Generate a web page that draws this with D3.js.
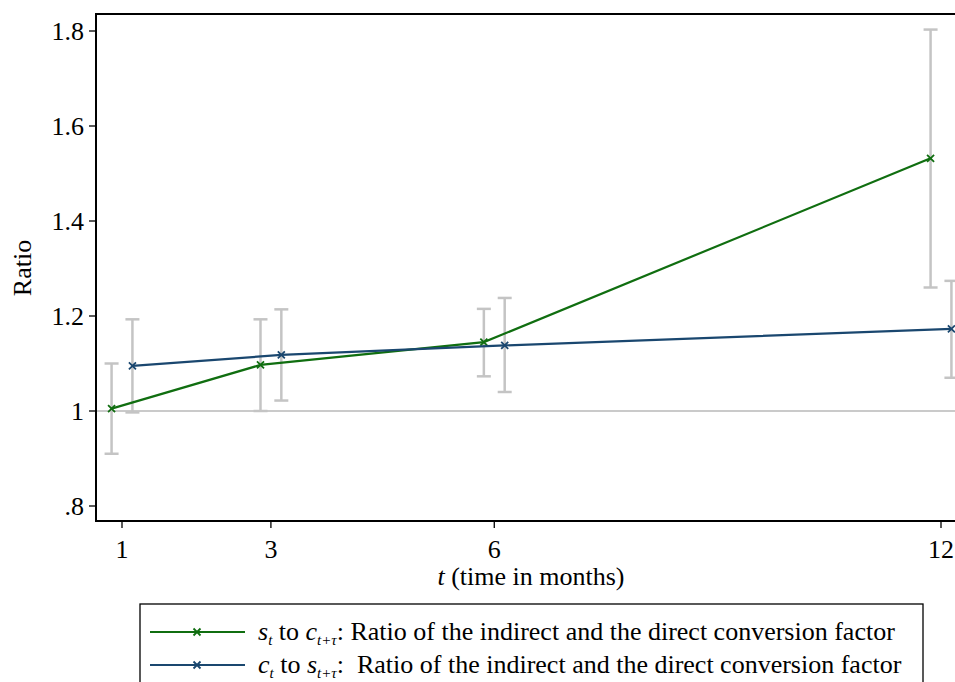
<!DOCTYPE html>
<html><head><meta charset="utf-8">
<script src="https://cdn.jsdelivr.net/npm/d3@7"></script>
<style>body{margin:0;background:#fff}svg{display:block}svg text{font-family:"Liberation Serif","Times New Roman","DejaVu Serif",serif}</style>
</head><body>
<svg id="c" width="955" height="682"></svg>
<script>
const months = [1, 3, 6, 12];
const greenVals = [1.005, 1.097, 1.145, 1.532];
const greenLo   = [0.910, 1.000, 1.073, 1.260];
const greenHi   = [1.100, 1.193, 1.215, 1.803];
const blueVals  = [1.095, 1.118, 1.138, 1.173];
const blueLo    = [0.997, 1.022, 1.040, 1.070];
const blueHi    = [1.193, 1.214, 1.238, 1.274];
const yTicks = [0.8, 1.0, 1.2, 1.4, 1.6, 1.8];
const yTickLabels = [".8", "1", "1.2", "1.4", "1.6", "1.8"];
const xTicks = [1, 3, 6, 12];

const svg = d3.select("#c");
const L = 96, T = 14, R = 962, B = 521;
const x = d3.scaleLinear().domain([1, 12]).range([122, 941]);
const y = d3.scaleLinear().domain([0.8, 1.8]).range([506, 31]);
const off = 0.14;
const green = "#106e10", blue = "#1a476f", gray = "#c4c4c4";
const FS = 26;

svg.append("line").attr("x1", L).attr("x2", R).attr("y1", y(1)).attr("y2", y(1))
  .attr("stroke", "#b8b8b8").attr("stroke-width", 1.5);

const series = [
  {vals: greenVals, lo: greenLo, hi: greenHi, dx: -off, color: green},
  {vals: blueVals, lo: blueLo, hi: blueHi, dx: off, color: blue}
];

series.forEach(s => {
  const g = svg.append("g").attr("stroke", gray).attr("stroke-width", 2.5).attr("fill", "none");
  months.forEach((m, i) => {
    const cx = x(m + s.dx);
    g.append("line").attr("x1", cx).attr("x2", cx).attr("y1", y(s.lo[i])).attr("y2", y(s.hi[i]));
    g.append("line").attr("x1", cx - 7).attr("x2", cx + 7).attr("y1", y(s.lo[i])).attr("y2", y(s.lo[i]));
    g.append("line").attr("x1", cx - 7).attr("x2", cx + 7).attr("y1", y(s.hi[i])).attr("y2", y(s.hi[i]));
  });
});

function xMark(g, cx, cy, color, r) {
  g.append("path").attr("d", `M${cx-r},${cy-r}L${cx+r},${cy+r}M${cx-r},${cy+r}L${cx+r},${cy-r}`)
    .attr("stroke", color).attr("stroke-width", 1.8).attr("fill", "none");
}

series.forEach(s => {
  const line = d3.line().x((d, i) => x(months[i] + s.dx)).y(d => y(d));
  svg.append("path").datum(s.vals).attr("d", line).attr("fill", "none")
    .attr("stroke", s.color).attr("stroke-width", 2.2);
  const g = svg.append("g");
  s.vals.forEach((v, i) => xMark(g, x(months[i] + s.dx), y(v), s.color, 3.5));
});

svg.append("path").attr("d", `M${R},${T}H${L}V${B}H${R}`).attr("fill", "none")
  .attr("stroke", "#000").attr("stroke-width", 2);

const ya = svg.append("g");
yTicks.forEach((t, i) => {
  ya.append("line").attr("x1", L - 7).attr("x2", L).attr("y1", y(t)).attr("y2", y(t)).attr("stroke", "#000").attr("stroke-width", 1.3);
  ya.append("text").attr("x", L - 12).attr("y", y(t)).attr("dy", "0.34em").attr("text-anchor", "end")
    .attr("font-size", FS).text(yTickLabels[i]);
});
const xa = svg.append("g");
xTicks.forEach(t => {
  xa.append("line").attr("x1", x(t)).attr("x2", x(t)).attr("y1", B).attr("y2", B + 7).attr("stroke", "#000").attr("stroke-width", 1.3);
  xa.append("text").attr("x", x(t)).attr("y", 558).attr("text-anchor", "middle")
    .attr("font-size", FS).text(t);
});

const xt = svg.append("text").attr("x", 531).attr("y", 585).attr("text-anchor", "middle")
  .attr("font-size", FS);
xt.append("tspan").attr("font-style", "italic").text("t");
xt.append("tspan").text(" (time in months)");
svg.append("text").attr("transform", "translate(31,268) rotate(-90)").attr("text-anchor", "middle")
  .attr("font-size", FS).text("Ratio");

svg.append("rect").attr("x", 140).attr("y", 604).attr("width", 783).attr("height", 100)
  .attr("fill", "#fff").attr("stroke", "#000").attr("stroke-width", 1.3);
const legendRows = [
  {color: green, a: "s", b: "c", sep: ": "},
  {color: blue, a: "c", b: "s", sep: ":  "}
];
legendRows.forEach((r, k) => {
  const ly = 632 + k * 33;
  svg.append("line").attr("x1", 150).attr("x2", 245).attr("y1", ly).attr("y2", ly)
    .attr("stroke", r.color).attr("stroke-width", 2.2);
  xMark(svg, 197, ly, r.color, 3.5);
  const t = svg.append("text").attr("x", 258).attr("y", ly + 8)
    .attr("font-size", FS).style("white-space", "pre");
  t.append("tspan").attr("font-style", "italic").text(r.a);
  t.append("tspan").attr("font-style", "italic").attr("font-size", 15).attr("dy", 5).text("t");
  t.append("tspan").attr("dy", -5).text(" to ");
  t.append("tspan").attr("font-style", "italic").text(r.b);
  t.append("tspan").attr("font-style", "italic").attr("font-size", 15).attr("dy", 5).text("t+τ");
  t.append("tspan").attr("dy", -5).text(r.sep + "Ratio of the indirect and the direct conversion factor");
});
</script>
</body></html>
